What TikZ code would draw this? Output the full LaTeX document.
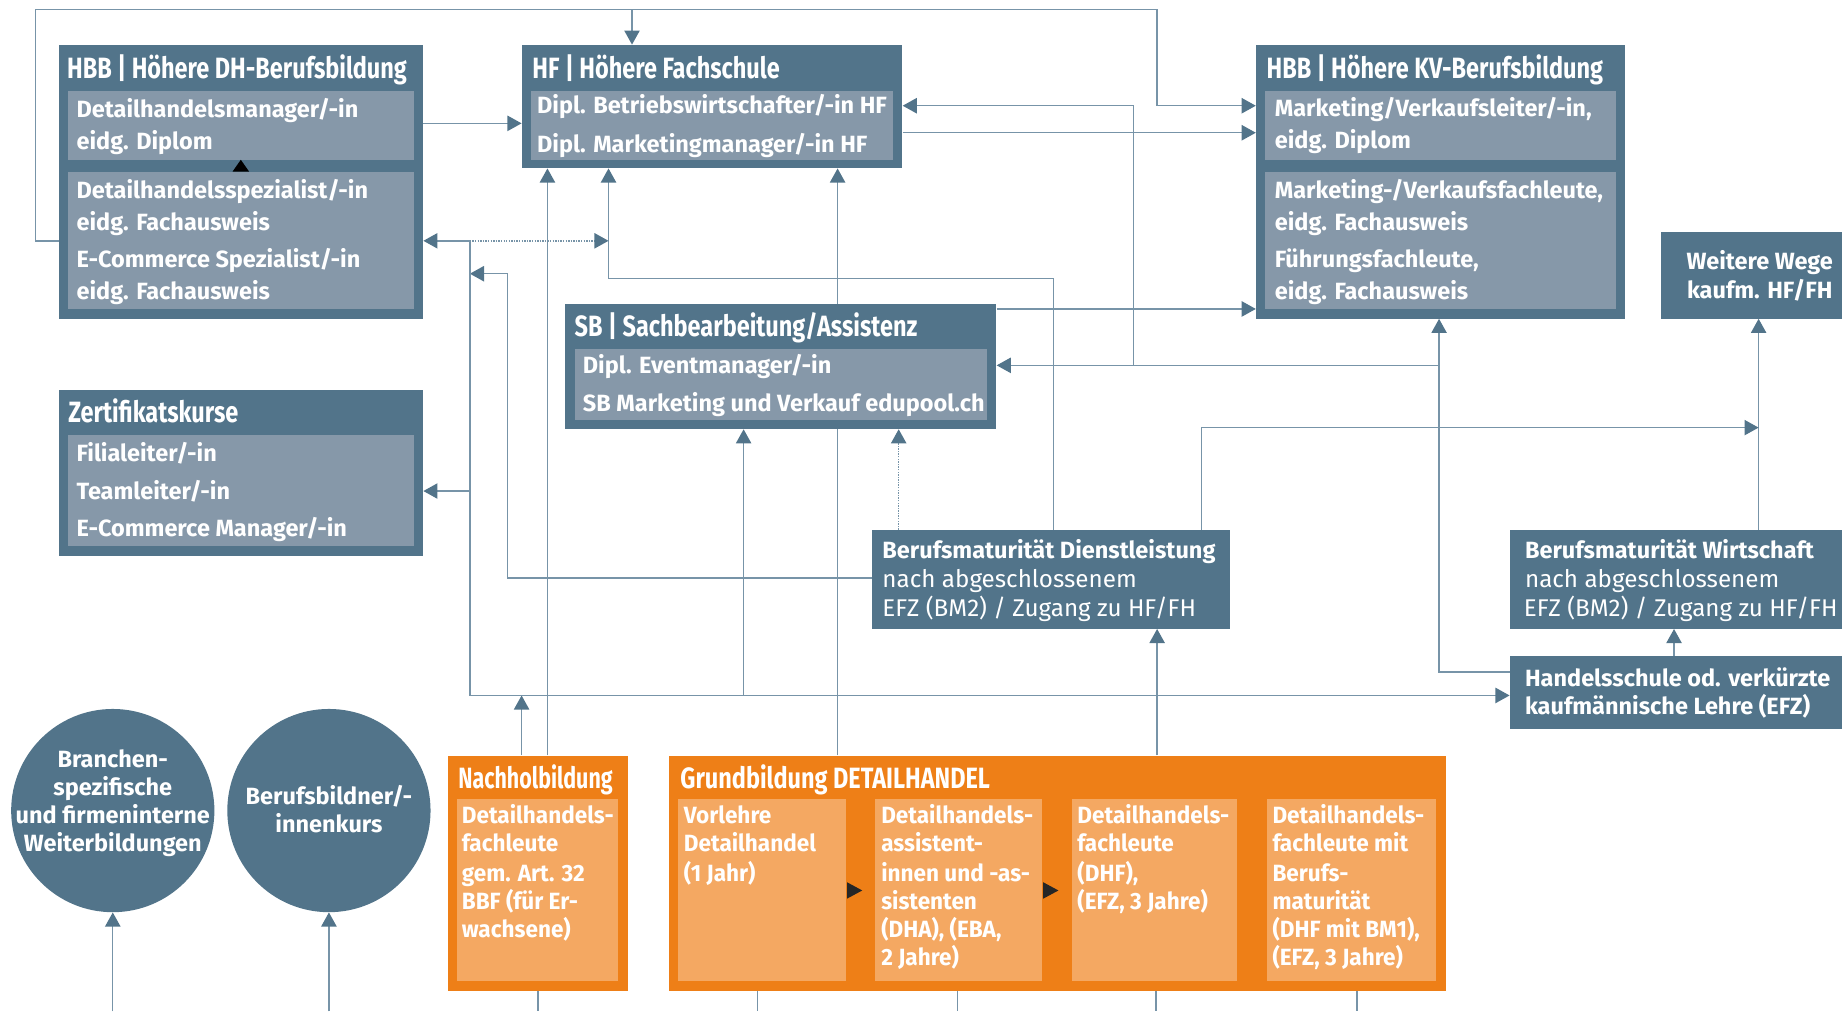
\documentclass[tikz,border=0pt]{standalone}
\usepackage{fontspec}
\setmainfont{Fira Sans}
\newfontfamily\bodyf{Fira Sans}
\newfontfamily\orf[FakeStretch=0.96]{Fira Sans}
\newfontfamily\titlef[FakeStretch=0.8]{Fira Sans}
\newfontfamily\titlen[FakeStretch=0.73]{Fira Sans}
\usetikzlibrary{arrows.meta,calc}
\definecolor{dk}{HTML}{52748A}
\definecolor{lt}{HTML}{8698A9}
\definecolor{orng}{HTML}{EE7F17}
\definecolor{lorng}{HTML}{F4A862}
\definecolor{ln}{HTML}{7794A8}
\pgfdeclarelayer{bg}
\pgfsetlayers{bg,main}
\tikzset{
  outer/.style={fill=dk, draw=none, inner sep=0pt, anchor=north west},
  innerbox/.style={fill=lt, draw=none, inner sep=0pt, anchor=north west},
  oouter/.style={fill=orng, draw=none, inner sep=0pt, anchor=north west},
  oinner/.style={fill=lorng, draw=none, inner sep=0pt, anchor=north west},
  txt/.style={anchor=west, inner sep=0pt, text=white, text height=19pt, text depth=5pt, font=\bodyf\bfseries\fontsize{20}{24}\selectfont},
  txtr/.style={txt, font=\bodyf\fontsize{20.6}{24}\selectfont},
  ctxt/.style={txt, anchor=center},
  otxt/.style={txt, font=\orf\bfseries\fontsize{20}{24}\selectfont},
  ttl/.style={anchor=west, inner sep=0pt, text=white, text height=22pt, text depth=5pt, font=\titlef\bfseries\fontsize{25}{28}\selectfont},
  ttln/.style={ttl, font=\titlen\bfseries\fontsize{25}{28}\selectfont},
  conn/.style={draw=ln, line width=1.2pt},
  arr/.style={conn, -{Triangle[length=12pt,width=13pt,color=dk]}},
  darr/.style={arr, densely dotted},
}
\begin{document}
\begin{tikzpicture}[x=1pt,y=-1pt]
\clip (0,0) rectangle (1568,861);
% ---------------- boxes ----------------
% HBB DH
\node[outer, minimum width=310pt, minimum height=233pt] (hbbdh) at (50,38) {};
\node[innerbox, minimum width=294pt, minimum height=59pt] (hbbdha) at (58,77) {};
\node[innerbox, minimum width=294pt, minimum height=117pt] (hbbdhb) at (58,146) {};
\node[ttl] (hbbdht) at (57,58) {HBB | Höhere DH-Berufsbildung};
\node[txt] (d1) at (65,93) {Detailhandelsmanager/-in};
\node[txt] (d2) at (65,120) {eidg. Diplom};
\node[txt] (d3) at (65,162) {Detailhandelsspezialist/-in};
\node[txt] (d4) at (65,189) {eidg. Fachausweis};
\node[txt] (d5) at (65,221) {E-Commerce Spezialist/-in};
\node[txt] (d6) at (65,248) {eidg. Fachausweis};
\fill[black] (198,146) -- (212,146) -- (205,136) -- cycle;
% HF
\node[outer, minimum width=324pt, minimum height=105pt] (hf) at (444,38) {};
\node[innerbox, minimum width=308pt, minimum height=59pt] (hfa) at (452,77) {};
\node[ttl] (hft) at (453,58) {HF | Höhere Fachschule};
\node[txt] (f1) at (457,90) {Dipl. Betriebswirtschafter/-in HF};
\node[txt] (f2) at (457,123) {Dipl. Marketingmanager/-in HF};
% HBB KV
\node[outer, minimum width=314pt, minimum height=233pt] (hbbkv) at (1069,38) {};
\node[innerbox, minimum width=298pt, minimum height=59pt] (hbbkva) at (1077,77) {};
\node[innerbox, minimum width=298pt, minimum height=117pt] (hbbkvb) at (1077,146) {};
\node[ttl] (hbbkvt) at (1078,58) {HBB | Höhere KV-Berufsbildung};
\node[txt] (k1) at (1085,92) {Marketing/Verkaufsleiter/-in,};
\node[txt] (k2) at (1085,119) {eidg. Diplom};
\node[txt] (k3) at (1085,162) {Marketing-/Verkaufsfachleute,};
\node[txt] (k4) at (1085,189) {eidg. Fachausweis};
\node[txt] (k5) at (1085,221) {Führungsfachleute,};
\node[txt] (k6) at (1085,248) {eidg. Fachausweis};
% Weitere Wege
\node[outer, minimum width=170pt, minimum height=74pt] (ww) at (1414,197) {};
\node[ctxt] (w1) at (1498,222) {Weitere Wege};
\node[ctxt] (w2) at (1498,247) {kaufm. HF/FH};
% SB
\node[outer, minimum width=367pt, minimum height=106pt] (sb) at (481,259) {};
\node[innerbox, minimum width=351pt, minimum height=60pt] (sba) at (489,297) {};
\node[ttl] (sbt) at (489,278) {SB | Sachbearbeitung/Assistenz};
\node[txt] (s1) at (496,311) {Dipl. Eventmanager/-in};
\node[txt] (s2) at (496,343) {SB Marketing und Verkauf edupool.ch};
% Zertifikatskurse
\node[outer, minimum width=310pt, minimum height=141pt] (zert) at (50,332) {};
\node[innerbox, minimum width=294pt, minimum height=95pt] (zerta) at (58,370) {};
\node[ttl] (zertt) at (58,351) {Zertifikatskurse};
\node[txt] (z1) at (65,386) {Filialeiter/-in};
\node[txt] (z2) at (65,418) {Teamleiter/-in};
\node[txt] (z3) at (65,450) {E-Commerce Manager/-in};
% BM Dienstleistung
\node[outer, minimum width=305pt, minimum height=84pt] (bmd) at (742,451) {};
\node[txt] (bd1) at (751,468) {Berufsmaturität Dienstleistung};
\node[txtr] (bd2) at (751,493) {nach abgeschlossenem};
\node[txtr] (bd3) at (751,518) {EFZ (BM2) / Zugang zu HF/FH};
% BM Wirtschaft
\node[outer, minimum width=300pt, minimum height=84pt] (bmw) at (1285,451) {};
\node[txt] (bw1) at (1298,468) {Berufsmaturität Wirtschaft};
\node[txtr] (bw2) at (1298,493) {nach abgeschlossenem};
\node[txtr] (bw3) at (1297,518) {EFZ (BM2) / Zugang zu HF/FH};
% Handelsschule
\node[outer, minimum width=300pt, minimum height=62pt] (hs) at (1285,558) {};
\node[txt] (h1) at (1298,577) {Handelsschule od. verkürzte};
\node[txt] (h2) at (1298,601) {kaufmännische Lehre (EFZ)};
% circles
\node[circle, fill=dk, draw=none, minimum size=173pt, inner sep=0pt] (c1) at (96,690) {};
\node[ctxt] (c1a) at (96,646) {Branchen-};
\node[ctxt] (c1b) at (96,670) {spezifische};
\node[ctxt] (c1c) at (96,694) {und firmeninterne};
\node[ctxt] (c1d) at (96,718) {Weiterbildungen};
\node[circle, fill=dk, draw=none, minimum size=173pt, inner sep=0pt] (c2) at (280,690) {};
\node[ctxt] (c2a) at (280,678) {Berufsbildner/-};
\node[ctxt] (c2b) at (280,702) {innenkurs};
% Nachholbildung
\node[oouter, minimum width=153pt, minimum height=200pt] (nach) at (381,643) {};
\node[oinner, minimum width=137pt, minimum height=155pt] (nacha) at (389,680) {};
\node[ttln] (nacht) at (390,663) {Nachholbildung};
\node[otxt] (n1) at (393,694) {Detailhandels-};
\node[otxt] (n2) at (393,718) {fachleute};
\node[otxt] (n3) at (393,743) {gem. Art. 32};
\node[otxt] (n4) at (393,767) {BBF (für Er-};
\node[otxt] (n5) at (393,791) {wachsene)};
% Grundbildung
\node[oouter, minimum width=662pt, minimum height=200pt] (grund) at (569,643) {};
\node[oinner, minimum width=143pt, minimum height=155pt] (g1) at (577,680) {};
\node[oinner, minimum width=142pt, minimum height=155pt] (g2) at (745,680) {};
\node[oinner, minimum width=141pt, minimum height=155pt] (g3) at (912,680) {};
\node[oinner, minimum width=144pt, minimum height=155pt] (g4) at (1078,680) {};
\node[ttl] (grundt) at (579,663) {Grundbildung DETAILHANDEL};
\node[otxt] (ga1) at (582,694) {Vorlehre};
\node[otxt] (ga2) at (582,718) {Detailhandel};
\node[otxt] (ga3) at (582,743) {(1 Jahr)};
\node[otxt] (gb1) at (750,694) {Detailhandels-};
\node[otxt] (gb2) at (750,718) {assistent-};
\node[otxt] (gb3) at (750,743) {innen und -as-};
\node[otxt] (gb4) at (750,767) {sistenten};
\node[otxt] (gb5) at (750,791) {(DHA), (EBA,};
\node[otxt] (gb6) at (750,815) {2 Jahre)};
\node[otxt] (gc1) at (917,694) {Detailhandels-};
\node[otxt] (gc2) at (917,718) {fachleute};
\node[otxt] (gc3) at (917,743) {(DHF),};
\node[otxt] (gc4) at (917,767) {(EFZ, 3 Jahre)};
\node[otxt] (gd1) at (1083,694) {Detailhandels-};
\node[otxt] (gd2) at (1083,718) {fachleute mit};
\node[otxt] (gd3) at (1083,743) {Berufs-};
\node[otxt] (gd4) at (1083,767) {maturität};
\node[otxt] (gd5) at (1083,791) {(DHF mit BM1),};
\node[otxt] (gd6) at (1083,815) {(EFZ, 3 Jahre)};
\fill[black!85] (721,751) -- (734,758) -- (721,765) -- cycle;
\fill[black!85] (888,751) -- (901,758) -- (888,765) -- cycle;
% ---------------- junction coordinates ----------------
\coordinate (tl) at (30,8);
\coordinate (tr) at (985,8);
\coordinate (jL) at (400,205);
\coordinate (jB) at (400,592);
\coordinate (jR) at (1225,311);
\coordinate (jH) at (965,311);
\coordinate (b1) at (96,861);
\coordinate (b2) at (280,861);
% ---------------- connectors ----------------
\begin{pgfonlayer}{bg}
\draw[arr] (hbbdh.west |- 0,205) -- (tl |- 0,205) -- (tl) -- (tr) -- (tr |- 0,90) -- (hbbkv.west |- 0,90);
\draw[arr] (538,8) -- (hf.north -| 538,0);
\draw[arr] (hbbdh.east |- 0,105) -- (hf.west |- 0,105);
\draw[arr] (hf.east |- 0,113) -- (hbbkv.west |- 0,113);
\draw[arr] (sb.north east |- 0,263) -- (hbbkv.west |- 0,263);
\draw[arr] (hs.west |- 0,572) -- (1225,572) -- (hbbkv.south -| 1225,0);
\draw[arr] (jR) -- (sb.east |- 0,311);
\draw[arr] (jH) -- (965,90) -- (hf.east |- 0,90);
\draw[arr] (bmw.north -| 1497,0) -- (ww.south -| 1497,0);
\draw[arr] (hs.north -| 1425,0) -- (bmw.south -| 1425,0);
\draw[arr] (bmd.north -| 1023,0) -- (1023,364) -- (1497,364);
\draw[arr] (bmd.north -| 897,0) -- (897,237) -- (518,237) -- (hf.south -| 518,0);
\draw[darr] (bmd.north -| 765,0) -- (sb.south -| 765,0);
\draw[arr] (bmd.west |- 0,492) -- (432,492) -- (432,233) -- (400,233);
\draw[arr] (nach.north -| 444,0) -- (444,592);
\draw[arr] (jL) -- (jB) -- (hs.west |- 0,592);
\draw[arr] (jL) -- (hbbdh.east |- 0,205);
\draw[darr] (jL) -- (518,205);
\draw[arr] (400,418) -- (zert.east |- 0,418);
\draw[arr] (633,592) -- (sb.south -| 633,0);
\draw[arr] (nach.north -| 466,0) -- (hf.south -| 466,0);
\draw[arr] (grund.north -| 713,0) -- (hf.south -| 713,0);
\draw[arr] (grund.north -| 985,0) -- (bmd.south -| 985,0);
\draw[arr] (b1) -- (c1.south);
\draw[arr] (b2) -- (c2.south);
\draw[conn] (nach.south -| 458,0) -- (458,861);
\draw[conn] (grund.south -| 645,0) -- (645,861);
\draw[conn] (grund.south -| 815,0) -- (815,861);
\draw[conn] (grund.south -| 984,0) -- (984,861);
\draw[conn] (grund.south -| 1155,0) -- (1155,861);
\end{pgfonlayer}
\end{tikzpicture}
\end{document}
